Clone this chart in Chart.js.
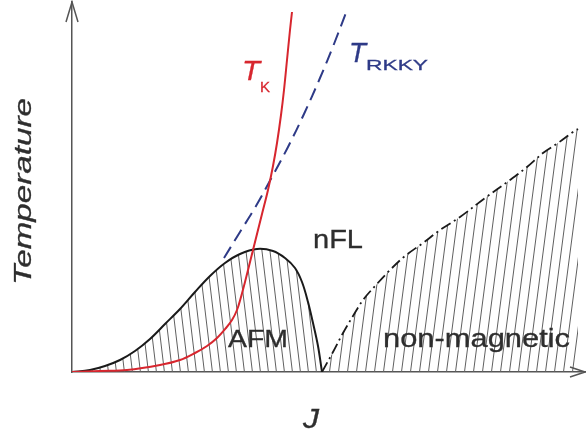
<!DOCTYPE html>
<html>
<head>
<meta charset="utf-8">
<script src="https://cdn.jsdelivr.net/npm/chart.js@4.4.1/dist/chart.umd.min.js"></script>
<style>
  body { margin: 0; background: #fff; }
  #wrap { width: 586px; height: 436px; }
</style>
</head>
<body>
<div id="wrap"><canvas id="myChart" width="586" height="436"></canvas></div>
<script>
// values (J and T in arbitrary units)
const tkJ = [0, 0.28, 0.55, 0.88, 1.08, 1.23, 1.35, 1.45, 1.54, 1.60, 1.65, 1.69, 1.73, 1.79, 1.84, 1.90, 1.96, 2.01, 2.05, 2.09, 2.12, 2.15, 2.18, 2.20];
const tkT = [0, 0.01, 0.02, 0.07, 0.12, 0.19, 0.26, 0.34, 0.44, 0.52, 0.62, 0.75, 0.90, 1.14, 1.34, 1.58, 1.82, 2.06, 2.29, 2.57, 2.82, 3.12, 3.42, 3.60];

const rkkyJ = [1.52, 1.68, 1.84, 2.00, 2.16, 2.32, 2.48, 2.62, 2.75];
const rkkyT = [1.14, 1.40, 1.66, 1.95, 2.25, 2.58, 2.94, 3.28, 3.62];

const afmJ = [0, 0.18, 0.33, 0.48, 0.63, 0.78, 0.93, 1.08, 1.23, 1.38, 1.53, 1.68, 1.85, 2.01, 2.13, 2.23, 2.30, 2.36, 2.41, 2.46, 2.50];
const afmT = [0, 0.02, 0.06, 0.12, 0.21, 0.33, 0.48, 0.63, 0.80, 0.96, 1.09, 1.18, 1.23, 1.21, 1.14, 1.04, 0.90, 0.70, 0.49, 0.26, 0];

const nmJ = [2.50, 2.61, 2.71, 2.81, 2.91, 3.04, 3.18, 3.33, 3.51, 3.68, 3.88, 4.13, 4.38, 4.55, 4.71, 4.86, 5.01, 5.06];
const nmT = [0, 0.20, 0.39, 0.56, 0.72, 0.87, 1.02, 1.16, 1.29, 1.42, 1.55, 1.74, 1.92, 2.05, 2.19, 2.29, 2.40, 2.43];

const jMax = 5.13;
const tMax = 3.70;

const pts = (xs, ys) => xs.map((x, i) => ({ x: x, y: ys[i] }));

// thin slanted hatching used under the AFM dome and the non-magnetic region
function hatch(spacing, height, rising) {
  const c = document.createElement('canvas');
  c.width = spacing;
  c.height = height;
  const g = c.getContext('2d');
  g.strokeStyle = '#606060';
  g.lineWidth = 1;
  for (let k = -1; k <= 1; k++) {
    const x0 = k * spacing;
    g.beginPath();
    if (rising) { g.moveTo(x0, height); g.lineTo(x0 + spacing, 0); }
    else { g.moveTo(x0, 0); g.lineTo(x0 + spacing, height); }
    g.stroke();
  }
  return g.createPattern(c, 'repeat');
}

const sans = '"Liberation Sans", Arial, sans-serif';
const labels = [
  { text: 'AFM', x: 228, y: 347, font: '24px ' + sans, color: '#2e2e2e', w: 60 },
  { text: 'nFL', x: 313, y: 248, font: '25px ' + sans, color: '#2e2e2e', w: 50 },
  { text: 'non-magnetic', x: 383, y: 347, font: '26px ' + sans, color: '#2e2e2e', w: 187 },
  { text: 'J', x: 303, y: 428, font: 'italic 27px ' + sans, color: '#2e2e2e', w: 16 },
  { text: 'Temperature', x: 31, y: 285, font: 'italic 24px ' + sans, color: '#2e2e2e', w: 187, rot: -Math.PI / 2 },
  { text: 'T', x: 242, y: 80, font: 'italic 27px ' + sans, color: '#d7262e', w: 18 },
  { text: 'K', x: 260, y: 92, font: '15px ' + sans, color: '#d7262e', w: 10 },
  { text: 'T', x: 349, y: 62, font: 'italic 27px ' + sans, color: '#2e3a87', w: 17 },
  { text: 'RKKY', x: 366, y: 70, font: '15px ' + sans, color: '#2e3a87', w: 62 }
];

const decor = {
  id: 'decor',
  afterDraw(chart) {
    const ctx = chart.ctx;
    const a = chart.chartArea;
    ctx.save();
    ctx.strokeStyle = '#555';
    ctx.lineWidth = 1.5;
    ctx.beginPath();
    ctx.moveTo(a.left - 6, a.top + 20); ctx.lineTo(a.left, a.top); ctx.lineTo(a.left + 6, a.top + 20);
    ctx.moveTo(a.right - 15, a.bottom - 5); ctx.lineTo(a.right, a.bottom); ctx.lineTo(a.right - 15, a.bottom + 5);
    ctx.stroke();
    ctx.restore();

    labels.forEach(l => {
      ctx.save();
      ctx.font = l.font;
      ctx.fillStyle = l.color;
      ctx.strokeStyle = l.color;
      ctx.lineWidth = 0.3;
      ctx.textAlign = 'left';
      ctx.textBaseline = 'alphabetic';
      ctx.translate(l.x, l.y);
      if (l.rot) ctx.rotate(l.rot);
      const w = ctx.measureText(l.text).width;
      ctx.scale(l.w / w, 1);
      ctx.fillText(l.text, 0, 0);
      ctx.strokeText(l.text, 0, 0);
      ctx.restore();
    });
  }
};

const ctx = document.getElementById('myChart');

new Chart(ctx, {
  type: 'scatter',
  data: {
    datasets: [
      {
        label: 'T_K',
        data: pts(tkJ, tkT),
        showLine: true,
        borderColor: '#d7262e',
        borderWidth: 2,
        pointRadius: 0,
        tension: 0.35,
        order: 1
      },
      {
        label: 'T_RKKY',
        data: pts(rkkyJ, rkkyT),
        showLine: true,
        borderColor: '#2e3a87',
        borderWidth: 2,
        borderDash: [13, 7],
        pointRadius: 0,
        tension: 0.35,
        order: 2
      },
      {
        label: 'AFM',
        data: pts(afmJ, afmT),
        showLine: true,
        borderColor: '#1a1a1a',
        borderWidth: 2,
        pointRadius: 0,
        tension: 0.35,
        fill: 'origin',
        backgroundColor: hatch(8, 67, false),
        order: 3
      },
      {
        label: 'non-magnetic',
        data: pts(nmJ, nmT),
        showLine: true,
        borderColor: '#1a1a1a',
        borderWidth: 1.8,
        borderDash: [11, 4, 2, 4],
        pointRadius: 0,
        tension: 0.35,
        fill: 'origin',
        backgroundColor: hatch(9, 69, true),
        order: 4
      }
    ]
  },
  options: {
    responsive: false,
    animation: false,
    layout: { padding: { left: 72, right: 1, top: 2, bottom: 64 } },
    plugins: {
      legend: { display: false },
      tooltip: { enabled: false }
    },
    scales: {
      x: {
        type: 'linear',
        min: 0,
        max: jMax,
        ticks: { display: false },
        grid: { display: false, drawTicks: false },
        border: { display: true, color: '#555', width: 1.5 },
        afterFit: s => { s.height = 0; }
      },
      y: {
        type: 'linear',
        min: 0,
        max: tMax,
        ticks: { display: false },
        grid: { display: false, drawTicks: false },
        border: { display: true, color: '#555', width: 1.5 },
        afterFit: s => { s.width = 0; }
      }
    }
  },
  plugins: [decor]
});
</script>
</body>
</html>
